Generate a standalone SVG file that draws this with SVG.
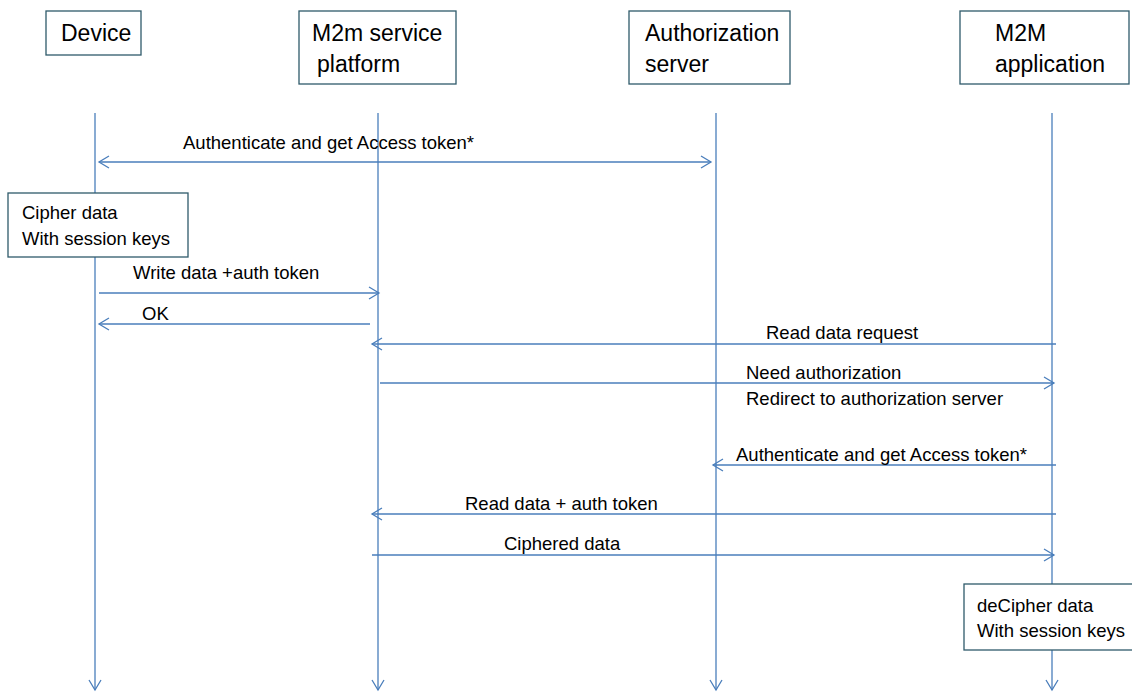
<svg xmlns="http://www.w3.org/2000/svg" width="1132" height="695" viewBox="0 0 1132 695">
<style>
.box{fill:#fff;stroke:#2f5a6a;stroke-width:1.3}
.ln{stroke:#4a7ebb;stroke-width:1.3;fill:none}
.t{font-family:"Liberation Sans",Arial,sans-serif;font-size:23px;fill:#000}
.s{font-family:"Liberation Sans",Arial,sans-serif;font-size:18.5px;fill:#000}
</style>
<defs>
<marker id="ah" markerWidth="14" markerHeight="14" refX="11" refY="7" orient="auto-start-reverse" markerUnits="userSpaceOnUse">
<path d="M1,1 L11,7 L1,13" fill="none" stroke="#4a7ebb" stroke-width="1.3"/>
</marker>
</defs>
<rect width="1132" height="695" fill="#fff"/>
<g id="lifelines">
<line class="ln" x1="95" y1="113" x2="95" y2="690" marker-end="url(#ah)"/>
<line class="ln" x1="378" y1="113" x2="378" y2="690" marker-end="url(#ah)"/>
<line class="ln" x1="716" y1="113" x2="716" y2="690" marker-end="url(#ah)"/>
<line class="ln" x1="1052" y1="113" x2="1052" y2="690" marker-end="url(#ah)"/>
</g>
<g id="device"><rect class="box" x="46" y="11" width="95" height="44"/><text class="t" x="61" y="41">Device</text></g>
<g id="platform"><rect class="box" x="299" y="11" width="157" height="73"/><text class="t" x="312" y="41">M2m service</text><text class="t" x="317" y="72">platform</text></g>
<g id="authserver"><rect class="box" x="629" y="11" width="161" height="73"/><text class="t" x="645" y="41">Authorization</text><text class="t" x="645" y="72">server</text></g>
<g id="application"><rect class="box" x="960" y="11" width="169" height="73"/><text class="t" x="995" y="41">M2M</text><text class="t" x="995" y="72">application</text></g>
<g id="cipher"><rect class="box" x="8" y="193" width="180" height="64"/><text class="s" x="22" y="219">Cipher data</text><text class="s" x="22" y="245">With session keys</text></g>
<g id="decipher"><rect class="box" x="964" y="584" width="170" height="66"/><text class="s" x="977" y="612">deCipher data</text><text class="s" x="977" y="637">With session keys</text></g>
<g id="connectors">
<line class="ln" x1="99" y1="162" x2="711" y2="162" marker-start="url(#ah)" marker-end="url(#ah)"/>
<text class="s" x="183" y="149">Authenticate and get Access token*</text>
<line class="ln" x1="99" y1="293" x2="379" y2="293" marker-end="url(#ah)"/>
<text class="s" x="133" y="279">Write data +auth token</text>
<line class="ln" x1="370" y1="324" x2="99" y2="324" marker-end="url(#ah)"/>
<text class="s" x="142" y="320">OK</text>
<line class="ln" x1="1056" y1="344" x2="372" y2="344" marker-end="url(#ah)"/>
<text class="s" x="766" y="339">Read data request</text>
<line class="ln" x1="380" y1="383" x2="1054" y2="383" marker-end="url(#ah)"/>
<text class="s" x="746" y="379">Need authorization</text>
<text class="s" x="746" y="405">Redirect to authorization server</text>
<line class="ln" x1="1056" y1="465" x2="713" y2="465" marker-end="url(#ah)"/>
<text class="s" x="736" y="461">Authenticate and get Access token*</text>
<line class="ln" x1="1056" y1="514" x2="372" y2="514" marker-end="url(#ah)"/>
<text class="s" x="465" y="510">Read data + auth token</text>
<line class="ln" x1="372" y1="555" x2="1054" y2="555" marker-end="url(#ah)"/>
<text class="s" x="504" y="550">Ciphered data</text>
</g>
</svg>
